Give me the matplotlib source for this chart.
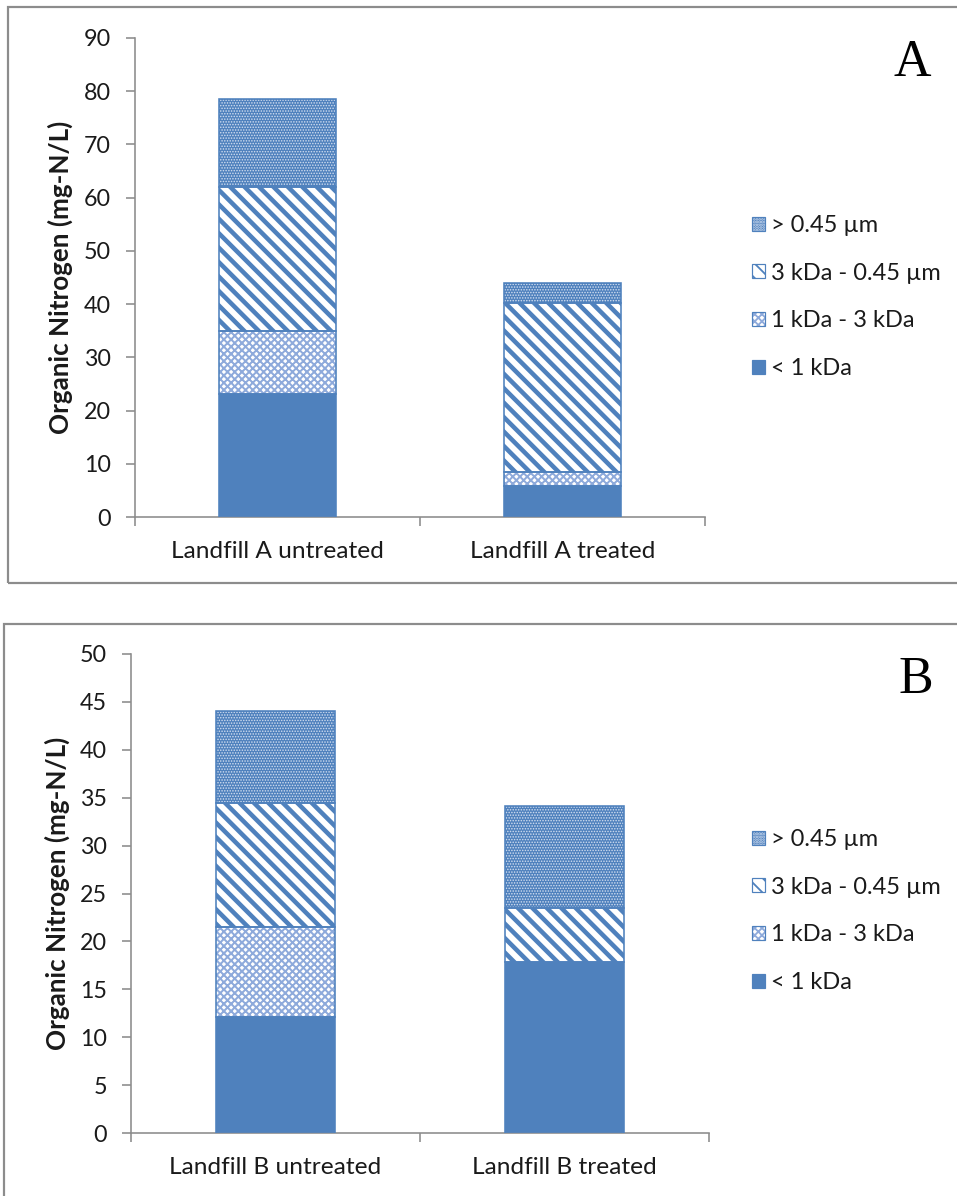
import matplotlib
matplotlib.use("Agg")
import matplotlib.pyplot as plt
from matplotlib.patches import Rectangle, Patch
from matplotlib.colors import to_rgba

DPI = 130
W, H = 957, 1196

# ---------------- data ----------------
categories_A = ["Landfill A untreated", "Landfill A treated"]
categories_B = ["Landfill B untreated", "Landfill B treated"]
fractions = ["< 1 kDa", "1 kDa - 3 kDa", "3 kDa - 0.45 µm", "> 0.45 µm"]

A_lt1kDa = [23.1, 5.9]
A_1to3kDa = [11.9, 2.6]
A_3kDa_045um = [27.0, 31.8]
A_gt045um = [16.5, 3.6]

B_lt1kDa = [12.1, 17.9]
B_1to3kDa = [9.4, 0.0]
B_3kDa_045um = [12.9, 5.6]
B_gt045um = [9.7, 10.6]

yticks_A = [0, 10, 20, 30, 40, 50, 60, 70, 80, 90]
yticks_B = [0, 5, 10, 15, 20, 25, 30, 35, 40, 45, 50]

# ---------------- style ----------------
BLUE = "#4f81bd"
GRAY = "#8c8c8c"
TXT = "#1a1a1a"
FONT = "Lato"

styles = [
    dict(face=BLUE, hcol=BLUE, hatch=None, hlw=1.0),                 # < 1 kDa
    dict(face="white", hcol="#8eaadb", hatch="xxxxxx", hlw=1.1),      # 1-3 kDa
    dict(face="white", hcol=BLUE, hatch="\\\\\\", hlw=2.5),           # 3 kDa - 0.45 um
    dict(face=BLUE, hcol="#d3dff1", hatch="........", hlw=0.55),     # > 0.45 um
]

fig = plt.figure(figsize=(W / DPI, H / DPI), dpi=DPI)
fig.patch.set_facecolor("white")
renderer = fig.canvas.get_renderer()


def px2pt(px):
    return px * 72.0 / DPI


def fit_size(text, target_px, weight="normal", family=FONT, base=20.0):
    t = fig.text(0, 0, text, fontsize=base, family=family, weight=weight)
    w = t.get_window_extent(renderer).width
    t.remove()
    return base * target_px / w


FS_TICK = fit_size("Landfill A untreated", 211)
FS_YTICK = fit_size("90", 27)
FS_LEG = fit_size("3 kDa - 0.45 µm", 170)
FS_YLAB = fit_size("Organic Nitrogen (mg-N/L)", 312, weight="bold")


def set_hlw(patch, lw):
    if hasattr(patch, "set_hatch_linewidth"):
        patch.set_hatch_linewidth(lw)


def make_panel(ax_px, cats, series, yticks, ymax, letter, letter_xy,
               ylab_x_px, legend_top_px, border_px):
    left, right, bottom, top = ax_px
    ax = fig.add_axes([left / W, 1 - bottom / H, (right - left) / W,
                       (bottom - top) / H])
    x = list(range(len(cats)))
    bottoms = [0.0] * len(cats)
    width = 0.41
    for vals, st in zip(series, styles):
        for i, v in enumerate(vals):
            if v <= 0:
                continue
            with plt.rc_context({"hatch.linewidth": st["hlw"]}):
                b = ax.bar(x[i], v, width=width, bottom=bottoms[i],
                           color=st["face"], edgecolor=st["hcol"],
                           linewidth=0, hatch=st["hatch"], zorder=2)
            for p in b:
                set_hlw(p, st["hlw"])
            ax.bar(x[i], v, width=width, bottom=bottoms[i], fill=False,
                   edgecolor=BLUE, linewidth=px2pt(1.6), zorder=3)
        bottoms = [bb + v for bb, v in zip(bottoms, vals)]

    ax.set_xlim(-0.5, len(cats) - 0.5)
    ax.set_ylim(0, ymax)
    for s in ["top", "right"]:
        ax.spines[s].set_visible(False)
    for s in ["left", "bottom"]:
        ax.spines[s].set_color(GRAY)
        ax.spines[s].set_linewidth(px2pt(1.6))
    ax.set_yticks(yticks)
    ax.set_yticklabels([str(t) for t in yticks], fontsize=FS_YTICK,
                       family=FONT, color=TXT)
    ax.set_xticks(x)
    ax.set_xticklabels(cats, fontsize=FS_TICK, family=FONT, color=TXT)
    ax.set_xticks([i - 0.5 for i in range(len(cats) + 1)], minor=True)
    ax.tick_params(axis="x", which="major", length=0, pad=px2pt(24))
    ax.tick_params(axis="x", which="minor", length=px2pt(9), color=GRAY,
                   width=px2pt(1.6), direction="out")
    ax.tick_params(axis="y", which="major", length=px2pt(9), color=GRAY,
                   width=px2pt(1.6), direction="out", pad=px2pt(15))
    ax.set_ylabel("Organic Nitrogen (mg-N/L)", fontsize=FS_YLAB,
                  family=FONT, weight="bold", color=TXT, va="center")
    ax.yaxis.set_label_coords((ylab_x_px - left) / (right - left), 0.5)

    # legend
    handles = []
    for name, st in reversed(list(zip(fractions, styles))):
        lw_h = min(st["hlw"], 1.6)
        with plt.rc_context({"hatch.linewidth": lw_h}):
            h = Patch(facecolor=st["face"], edgecolor=st["hcol"],
                      hatch=st["hatch"], linewidth=0, label=name)
        set_hlw(h, lw_h)
        handles.append(h)
    hsz = 13.0 / (FS_LEG * DPI / 72.0)
    leg = ax.legend(handles=handles, loc="upper left",
                    bbox_to_anchor=(752 / W, 1 - legend_top_px / H),
                    bbox_transform=fig.transFigure, frameon=False,
                    prop={"family": FONT, "size": FS_LEG},
                    handlelength=hsz, handleheight=hsz, handletextpad=0.25,
                    labelspacing=1.13, borderpad=0, borderaxespad=0)
    for t in leg.get_texts():
        t.set_color(TXT)
    for h, st in zip(leg.legend_handles, reversed(styles)):
        h.set_linewidth(px2pt(1.2))
        h.set_edgecolor(BLUE)
        if hasattr(h, "_hatch_color"):
            h._hatch_color = to_rgba(st["hcol"])

    # panel letter
    fig.text(letter_xy[0] / W, 1 - letter_xy[1] / H, letter,
             fontsize=px2pt(52), family="Liberation Serif", ha="center",
             va="center", color="black")

    # border
    bx0, by0, bx1, by1 = border_px
    fig.add_artist(Rectangle((bx0 / W, 1 - by1 / H), (bx1 - bx0) / W,
                             (by1 - by0) / H, transform=fig.transFigure,
                             fill=False, edgecolor=GRAY,
                             linewidth=px2pt(2.2), zorder=0))
    return ax


make_panel((135, 705, 517, 38), categories_A,
           [A_lt1kDa, A_1to3kDa, A_3kDa_045um, A_gt045um],
           yticks_A, 90, "A", (912, 63), 60, 215, (8, 7, 970, 583))

make_panel((131, 709, 1133, 654), categories_B,
           [B_lt1kDa, B_1to3kDa, B_3kDa_045um, B_gt045um],
           yticks_B, 50, "B", (916, 680), 57, 829, (4, 624, 970, 1210))

fig.savefig("out.png", dpi=DPI, facecolor="white")
